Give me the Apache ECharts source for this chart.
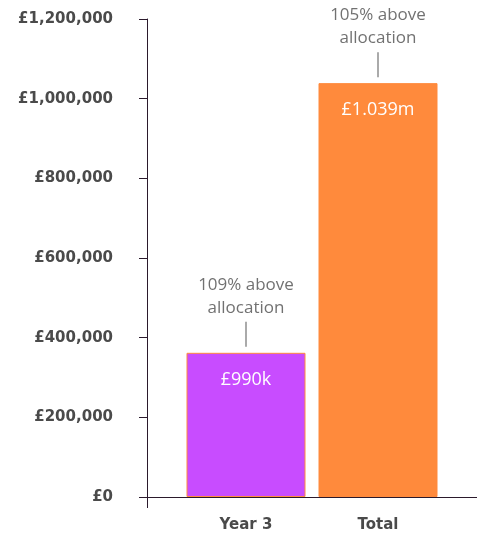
<!DOCTYPE html>
<html>
<head>
<meta charset="utf-8">
<script src="https://cdn.jsdelivr.net/npm/echarts@6/dist/echarts.min.js"></script>
<style>
  html, body { margin: 0; padding: 0; background: #fff; }
  #main { width: 477px; height: 535px; }
</style>
</head>
<body>
<div id="main"></div>
<script>
  // chart data
  const categories = ['Year 3', 'Total'];
  const values = [362000, 1039000];
  const barLabels = ['£990k', '£1.039m'];
  const notes = [['109% above', 'allocation'], ['105% above', 'allocation']];
  const barColors = ['#c84cff', '#ff8a3c'];
  const yTicks = { min: 0, max: 1200000, interval: 200000 };

  const axisColor = '#2b1a2c';
  const textColor = '#4a4a4a';

  const myChart = echarts.init(document.getElementById('main'));

  const option = {
    animation: false,
    grid: [
      // axes frame
      { left: 147, right: 0, top: 19, bottom: 38 },
      // bars
      { left: 180, right: 33, top: 19, bottom: 38 }
    ],
    xAxis: [
      {
        gridIndex: 0, type: 'value', min: 0, max: 1, interval: 1,
        axisLine: { show: true, lineStyle: { color: axisColor, width: 1 } },
        axisTick: { show: true, length: 11, lineStyle: { color: axisColor } },
        axisLabel: { show: false },
        splitLine: { show: false }
      },
      {
        gridIndex: 1, type: 'category', data: categories,
        axisLine: { show: false },
        axisTick: { show: false },
        axisLabel: {
          margin: 21, color: textColor, fontSize: 15, fontWeight: 'bold',
          fontFamily: 'DejaVu Sans'
        }
      }
    ],
    yAxis: [
      {
        gridIndex: 0, type: 'value',
        min: yTicks.min, max: yTicks.max, interval: yTicks.interval,
        axisLine: { show: true, lineStyle: { color: axisColor, width: 1 } },
        axisTick: { show: true, length: 8, lineStyle: { color: axisColor } },
        splitLine: { show: false },
        axisLabel: {
          margin: 34, color: textColor, fontSize: 15, fontWeight: 'bold',
          fontFamily: 'DejaVu Sans',
          formatter: v => '£' + v.toLocaleString('en-GB')
        }
      },
      {
        gridIndex: 1, type: 'value',
        min: yTicks.min, max: yTicks.max, interval: yTicks.interval,
        show: false
      }
    ],
    series: [
      {
        type: 'bar',
        xAxisIndex: 1, yAxisIndex: 1,
        barWidth: 119,
        data: values.map((v, i) => ({
          value: v,
          itemStyle: { color: barColors[i], borderColor: '#ff8a3c', borderWidth: 1 }
        })),
        label: {
          show: true, position: 'insideTop', distance: 17,
          color: '#fff', fontSize: 18, lineHeight: 20, fontFamily: 'Open Sans',
          formatter: p => barLabels[p.dataIndex]
        },
        silent: true
      },
      {
        // notes above the bars
        type: 'scatter',
        xAxisIndex: 1, yAxisIndex: 1,
        symbolSize: 0.01,
        itemStyle: { color: 'transparent' },
        data: values,
        z: 5,
        silent: true,
        label: {
          show: true, position: 'top', distance: 6,
          formatter: p => '{t|' + notes[p.dataIndex][0] + '}\n{t|' + notes[p.dataIndex][1] + '}\n{v| }',
          rich: {
            t: { color: '#4d4d4d', fontSize: 17, fontFamily: 'Open Sans', lineHeight: 23, align: 'center' },
            v: { width: 1, height: 25, lineHeight: 27, backgroundColor: '#2b2b2b', fontSize: 1, align: 'center', verticalAlign: 'bottom' }
          }
        }
      }
    ]
  };

  myChart.setOption(option);
</script>
</body>
</html>
